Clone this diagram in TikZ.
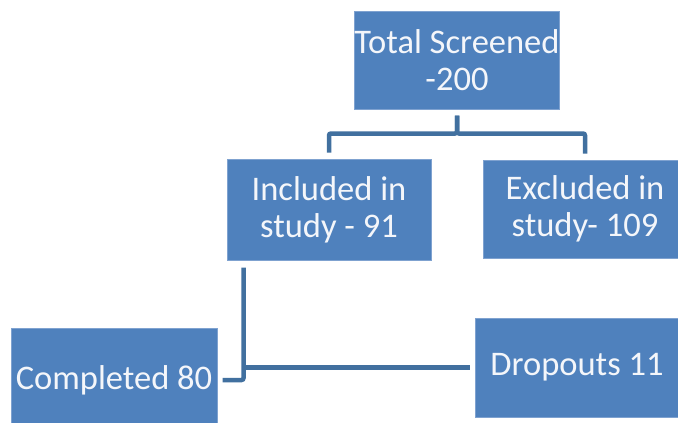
\documentclass[tikz,border=0pt]{standalone}
\usepackage{fontspec}
\setmainfont{Carlito}
\definecolor{boxblue}{HTML}{4F81BD}
\definecolor{boxedge}{HTML}{7FA2D0}
\definecolor{linecol}{HTML}{41709F}
\definecolor{txt}{HTML}{F4F6FA}
\tikzset{
  stepbox/.style={rectangle, fill=boxblue, draw=boxedge, line width=1pt,
    minimum width=204pt, minimum height=99pt, inner sep=0pt,
    text=txt, align=center,
    font=\fontsize{34.5pt}{37pt}\selectfont},
  conn/.style={draw=linecol, line width=4.5pt, rounded corners=2pt}
}
\begin{document}
\begin{tikzpicture}[x=1pt,y=-1pt]
\useasboundingbox (0,0) rectangle (678,423);
\clip (0,0) rectangle (678,423);
\fill[white] (0,0) rectangle (678,423);
\node[stepbox, minimum height=98pt] (top) at (457,60) {Total Screened\\-200};
\node[stepbox, minimum height=101pt] (inc) at (329,209.5) {Included in\\study - 91};
\node[stepbox, minimum height=98pt] (exc) at (585,209) {Excluded in\\study- 109};
\node[stepbox, minimum width=206pt, minimum height=104pt] (comp) at (114,380) {Completed 80};
\node[stepbox] (drop) at (577,367.5) {Dropouts 11};
\draw[conn] ([yshift=-6pt]top.south) -- ++(0,18) -| ([yshift=6pt]inc.north);
\draw[conn] ([yshift=-6pt]top.south) -- ++(0,18) -| ([yshift=6pt]exc.north);
\coordinate (j) at ([shift={(17pt,-7pt)}]inc.south west);
\draw[conn] (j) |- ([xshift=5pt]comp.east);
\draw[conn] ([xshift=-5pt]drop.west) -- (j |- drop.west);
\end{tikzpicture}
\end{document}
